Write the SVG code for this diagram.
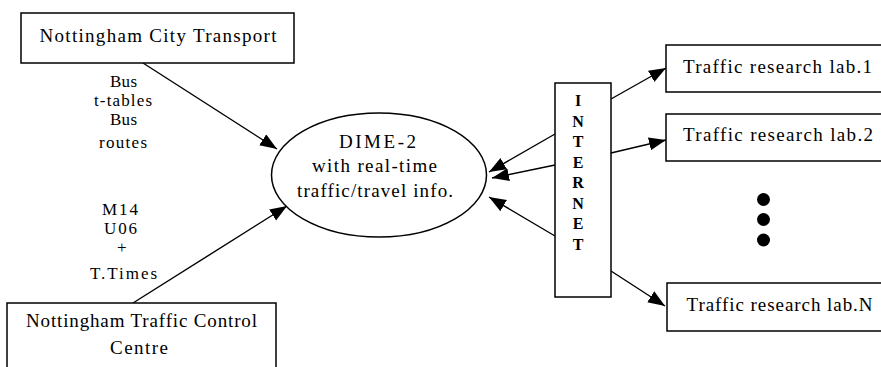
<svg xmlns="http://www.w3.org/2000/svg" width="881" height="367" viewBox="0 0 881 367">
<style>
.box{fill:#fff;stroke:#000;stroke-width:1.5}
.t{font-family:"Liberation Serif","Times New Roman",serif;font-size:19px;fill:#000}
.l{font-family:"Liberation Serif","Times New Roman",serif;font-size:17px;fill:#000}
.b{font-family:"Liberation Serif","Times New Roman",serif;font-size:16px;font-weight:bold;fill:#000;text-anchor:middle}
.c{stroke:#000;stroke-width:1.4;fill:none;marker-end:url(#ah)}
</style>
<defs>
<marker id="ah" markerUnits="userSpaceOnUse" markerWidth="18" markerHeight="14" refX="17" refY="6.5" orient="auto">
<path d="M0,0 L17,6.5 L0,13 z" fill="#000"/>
</marker>
</defs>
<rect width="881" height="367" fill="#fff"/>
<g id="connectors">
<line class="c" x1="143" y1="63" x2="277" y2="149"/>
<line class="c" x1="133" y1="303" x2="287" y2="206"/>
<line class="c" x1="555" y1="134" x2="489" y2="172"/>
<line class="c" x1="555" y1="165" x2="492" y2="178"/>
<line class="c" x1="555" y1="236" x2="489" y2="197"/>
<line class="c" x1="611" y1="99" x2="666" y2="68"/>
<line class="c" x1="611" y1="153" x2="666" y2="140"/>
<line class="c" x1="611" y1="271" x2="665" y2="306"/>
<g class="l">
<text x="110" y="87" textLength="27" lengthAdjust="spacing">Bus</text>
<text x="94" y="106" textLength="58" lengthAdjust="spacing">t-tables</text>
<text x="110" y="125" textLength="27" lengthAdjust="spacing">Bus</text>
<text x="99" y="148" textLength="48" lengthAdjust="spacing">routes</text>
<text x="102" y="215" textLength="36" lengthAdjust="spacing">M14</text>
<text x="104" y="234" textLength="33" lengthAdjust="spacing">U06</text>
<text x="117" y="253" textLength="10" lengthAdjust="spacing">+</text>
<text x="90" y="279" textLength="67" lengthAdjust="spacing">T.Times</text>
</g>
</g>
<g id="nct">
<rect class="box" x="21" y="13" width="273" height="50"/>
<text class="t" x="39.5" y="42" textLength="237" lengthAdjust="spacing">Nottingham City Transport</text>
</g>
<g id="ntcc">
<rect class="box" x="7" y="303" width="269" height="80"/>
<text class="t" x="26" y="327" textLength="231" lengthAdjust="spacing">Nottingham Traffic Control</text>
<text class="t" x="110" y="354" textLength="58" lengthAdjust="spacing">Centre</text>
</g>
<g id="dime">
<ellipse cx="379" cy="175" rx="107.5" ry="62" fill="#fff" stroke="#000" stroke-width="1.5"/>
<text class="t" x="339" y="148" textLength="77" lengthAdjust="spacing">DIME-2</text>
<text class="t" x="312" y="172" textLength="125" lengthAdjust="spacing">with real-time</text>
<text class="t" x="297" y="197" textLength="156" lengthAdjust="spacing">traffic/travel info.</text>
</g>
<g id="internet">
<rect class="box" x="555" y="83" width="56" height="214"/>
<text class="b" x="578" y="106">I</text>
<text class="b" x="578" y="126.5">N</text>
<text class="b" x="578" y="147">T</text>
<text class="b" x="578" y="167.5">E</text>
<text class="b" x="578" y="188">R</text>
<text class="b" x="578" y="208.5">N</text>
<text class="b" x="578" y="229">E</text>
<text class="b" x="578" y="250">T</text>
</g>
<g id="lab1">
<rect class="box" x="666" y="45" width="230" height="47"/>
<text class="t" x="683" y="73" textLength="189" lengthAdjust="spacing">Traffic research lab.1</text>
</g>
<g id="lab2">
<rect class="box" x="666" y="114" width="230" height="47"/>
<text class="t" x="683" y="141" textLength="190" lengthAdjust="spacing">Traffic research lab.2</text>
</g>
<g id="dots">
<circle cx="763.5" cy="199.5" r="6.5" fill="#000"/>
<circle cx="763.5" cy="219.5" r="6.5" fill="#000"/>
<circle cx="763.5" cy="240" r="6.5" fill="#000"/>
</g>
<g id="labN">
<rect class="box" x="667" y="283" width="230" height="48"/>
<text class="t" x="686.5" y="311" textLength="186" lengthAdjust="spacing">Traffic research lab.N</text>
</g>
</svg>
